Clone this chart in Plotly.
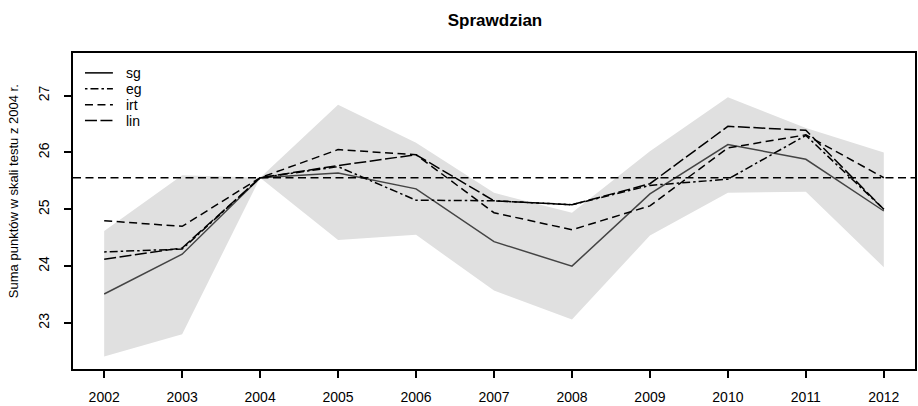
import plotly.graph_objects as go

# Lata egzaminu
years = [2002, 2003, 2004, 2005, 2006, 2007, 2008, 2009, 2010, 2011, 2012]

# Wyniki zrównane różnymi metodami (skala testu z 2004 r.)
sg = [23.51, 24.21, 25.555, 25.64, 25.36, 24.43, 24.00, 25.27, 26.14, 25.88, 24.97]
eg = [24.25, 24.30, 25.555, 25.75, 25.16, 25.15, 25.08, 25.42, 25.53, 26.30, 25.00]
irt = [24.80, 24.70, 25.555, 26.05, 25.96, 24.94, 24.64, 25.06, 26.08, 26.31, 25.555]
lin = [24.12, 24.32, 25.555, 25.77, 25.96, 25.15, 25.08, 25.45, 26.46, 26.39, 25.00]

# Przedział niepewności
band_lo = [22.41, 22.80, 25.555, 24.46, 24.55, 23.57, 23.06, 24.54, 25.29, 25.31, 23.98]
band_hi = [24.62, 25.60, 25.555, 26.84, 26.17, 25.29, 24.94, 26.02, 26.97, 26.43, 26.00]

# Poziom odniesienia (wynik z 2004 r.)
ref_level = 25.555

series_names = ["sg", "eg", "irt", "lin"]
series_values = [sg, eg, irt, lin]
series_colors = ["#444444", "black", "black", "black"]
series_dash = ["solid", "2.5px,3px,8px,3px", "8px,4.5px", "12px,3.5px"]

y_ticks = [23, 24, 25, 26, 27]

W, H = 918, 406
ML, MR, MT, MB = 73, 1, 53, 35
FONT = "Liberation Sans, Arial, Helvetica, sans-serif"

fig = go.Figure()

fig.add_trace(go.Scatter(x=years, y=band_lo, mode="lines", line=dict(width=0),
                         hoverinfo="skip", showlegend=False))
fig.add_trace(go.Scatter(x=years, y=band_hi, mode="lines", line=dict(width=0),
                         fill="tonexty", fillcolor="#e0e0e0",
                         hoverinfo="skip", showlegend=False))

fig.add_hline(y=ref_level, line=dict(color="black", width=1.5, dash="8px,4.5px"))

for name, vals, col, dash in zip(series_names, series_values, series_colors, series_dash):
    fig.add_trace(go.Scatter(x=years, y=vals, mode="lines", name=name,
                             line=dict(color=col, width=1.5, dash=dash),
                             showlegend=False))

# Legenda rysowana ręcznie w lewym górnym rogu
pw = W - ML - MR
ph = H - MT - MB
leg_x0, leg_x1, leg_tx = 85, 113, 124
leg_y = [73, 89, 105, 121]
for name, col, dash, ly in zip(series_names, series_colors, series_dash, leg_y):
    yp = 1 - (ly - MT) / ph
    fig.add_shape(type="line", xref="paper", yref="paper",
                  x0=(leg_x0 - ML) / pw, x1=(leg_x1 - ML) / pw, y0=yp, y1=yp,
                  line=dict(color="black", width=1.5, dash=dash))
    fig.add_annotation(text=name, xref="paper", yref="paper",
                       x=(leg_tx - ML) / pw, y=yp, xanchor="left", yanchor="middle",
                       showarrow=False, font=dict(size=14, color="black", family=FONT))

fig.add_annotation(text="Suma punktów w skali testu z 2004 r.", xref="paper", yref="paper",
                   x=0, y=1 - (192 - MT) / ph, xshift=-60, textangle=-90, showarrow=False,
                   xanchor="center", yanchor="middle",
                   font=dict(size=13, color="black", family=FONT))

fig.update_layout(
    width=W, height=H,
    margin=dict(l=ML, r=MR, t=MT, b=MB),
    paper_bgcolor="white", plot_bgcolor="white",
    font=dict(family=FONT, color="black", size=14),
    title=dict(text="<b>Sprawdzian</b>", x=(ML + pw / 2) / W, xanchor="center",
               y=1 - 20 / H, yanchor="middle", font=dict(size=17, family=FONT)),
    showlegend=False,
)

fig.update_xaxes(range=[2001.6, 2012.4], tickvals=years, ticktext=[str(y) for y in years],
                 ticks="outside", ticklen=7, tickwidth=1.5, tickcolor="black",
                 showline=True, mirror=True, linecolor="black", linewidth=1.5,
                 showgrid=False, zeroline=False, ticklabelstandoff=7,
                 tickfont=dict(size=14, family=FONT))
fig.update_yaxes(range=[22.19, 27.75], tickvals=y_ticks,
                 ticks="outside", ticklen=7, tickwidth=1.5, tickcolor="black",
                 showline=True, mirror=True, linecolor="black", linewidth=1.5,
                 showgrid=False, zeroline=False, tickangle=-90, ticklabelstandoff=10,
                 tickfont=dict(size=14, family=FONT))

fig.write_html("out.html")
